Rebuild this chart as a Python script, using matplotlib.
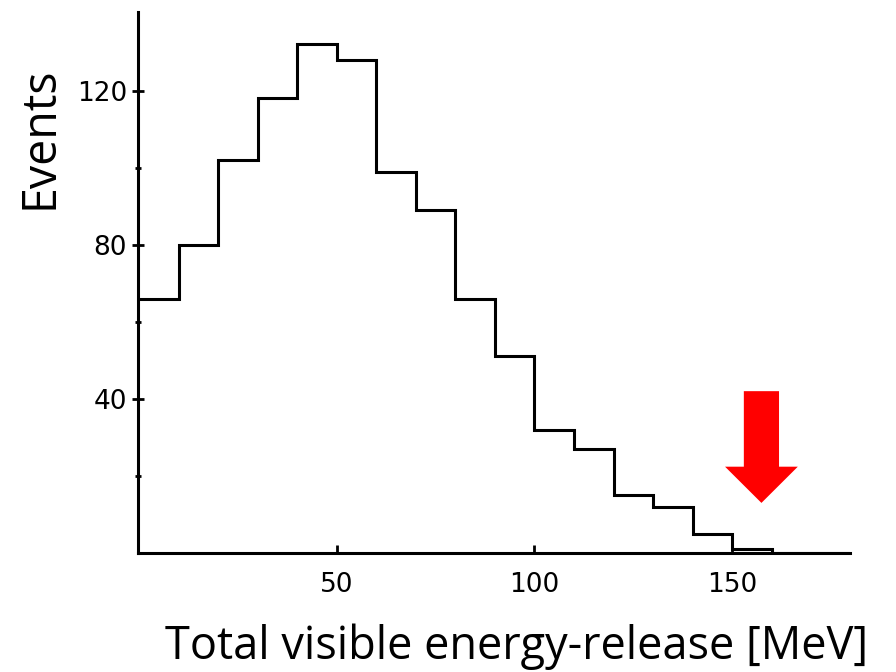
import matplotlib
matplotlib.use("Agg")
import matplotlib.pyplot as plt
import numpy as np

# Data: 10 MeV bins
bin_edges = [0, 10, 20, 30, 40, 50, 60, 70, 80, 90, 100, 110, 120, 130, 140, 150, 160, 170, 180]
counts = [66, 80, 102, 118, 132, 128, 99, 89, 66, 51, 32, 27, 15, 12, 5, 1, 0, 0]

x_ticks = [50, 100, 150]
y_major = [40, 80, 120]
y_minor = [20, 60, 100]

# arrow annotation (data units)
arrow_x = 157.4
arrow_top = 42.0
arrow_tip = 13.0

fig = plt.figure(figsize=(8.96, 6.72), dpi=100)
ax = fig.add_axes([137.5/896, (672-553)/672, 712.5/896, 541/672])

ax.stairs(counts, bin_edges, color="black", linewidth=2.2, baseline=None)

ax.set_xlim(-0.4, 179.8)
ax.set_ylim(0, 140.4)

for s in ["top", "right"]:
    ax.spines[s].set_visible(False)
for s in ["left", "bottom"]:
    ax.spines[s].set_linewidth(2.2)

ax.set_xticks(x_ticks)
ax.set_xticklabels([str(v) for v in x_ticks])
ax.set_yticks(y_major)
ax.set_yticklabels([str(v) for v in y_major])
ax.set_yticks(y_minor, minor=True)

ax.tick_params(axis="x", direction="in", length=6, width=2, labelsize=19, pad=14)
ax.tick_params(axis="y", which="major", direction="inout", length=9, width=2, labelsize=19, pad=3)
ax.tick_params(axis="y", which="minor", direction="inout", length=5, width=2)

ax.arrow(arrow_x, arrow_top, 0, arrow_tip - arrow_top, width=8.9, head_width=18.4,
         head_length=9.4, length_includes_head=True, color="#ff0000", linewidth=0)

fig.text(517/896, (672-659)/672, "Total visible energy-release [MeV]", ha="center",
         va="baseline", fontsize=32.5, family="Open Sans")
fig.text(40/896, 1-138/672, "Events", ha="center", va="center", rotation=90,
         fontsize=33.5, family="Open Sans")

fig.savefig("out.png", dpi=100)
